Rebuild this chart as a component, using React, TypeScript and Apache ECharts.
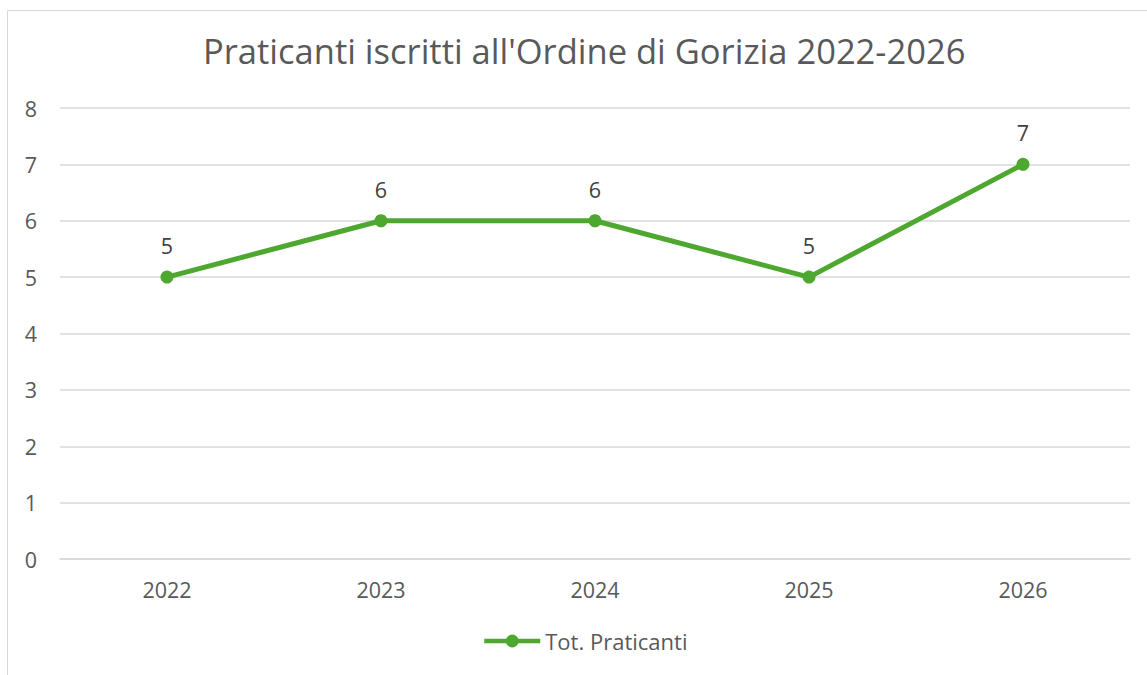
import React, { useEffect, useRef } from "react";
import * as echarts from "echarts";

const categories = ["2022", "2023", "2024", "2025", "2026"];
const praticanti = [5, 6, 6, 5, 7];
const seriesName = "Tot. Praticanti";
const titleText = "Praticanti iscritti all'Ordine di Gorizia 2022-2026";

export default function App() {
  const ref = useRef<HTMLDivElement>(null);
  useEffect(() => {
    if (!ref.current) return;
    const chart = echarts.init(ref.current, undefined, { renderer: "svg" });
    const font = "'Open Sans', 'Noto Sans', sans-serif";
    chart.setOption({
      animation: false,
      backgroundColor: "#ffffff",
      title: {
        text: titleText,
        left: 198,
        top: 28,
        textStyle: { fontFamily: font, fontSize: 34.5, fontWeight: "normal", color: "#595959" },
      },
      graphic: [
        {
          type: "rect",
          shape: { x: 7.5, y: 10.5, width: 1160, height: 700 },
          style: { fill: "none", stroke: "#d9d9d9", lineWidth: 1 },
          silent: true,
        },
      ],
      legend: {
        top: 625,
        left: 477,
        itemWidth: 56,
        itemHeight: 16,
        itemGap: 4,
        lineStyle: { width: 4.5 },
        textStyle: { fontFamily: font, fontSize: 22, color: "#595959", padding: [0, 0, 0, 0] },
        data: [{ name: seriesName }],
      },
      grid: { left: 60, right: 17, top: 108, bottom: 116, containLabel: false },
      xAxis: {
        type: "category",
        data: categories,
        boundaryGap: true,
        axisLine: { show: true, lineStyle: { color: "#d9d9d9", width: 1.5 } },
        axisTick: { show: false },
        axisLabel: { fontFamily: font, fontSize: 21.5, color: "#595959", margin: 19 },
      },
      yAxis: {
        type: "value",
        min: 0,
        max: 8,
        interval: 1,
        axisLine: { show: false },
        axisTick: { show: false },
        splitLine: { lineStyle: { color: "#d9d9d9", width: 1.5 } },
        axisLabel: { fontFamily: font, fontSize: 21.5, color: "#595959", margin: 23 },
      },
      series: [
        {
          name: seriesName,
          type: "line",
          data: praticanti,
          symbol: "circle",
          symbolSize: 13,
          itemStyle: { color: "#4ea72e" },
          lineStyle: { color: "#4ea72e", width: 5 },
          label: {
            show: true,
            position: "top",
            distance: 14,
            fontFamily: font,
            fontSize: 21.5,
            color: "#404040",
          },
        },
      ],
    });
    return () => chart.dispose();
  }, []);
  return (
    <div
      ref={ref}
      style={{ position: "fixed", left: 0, top: 0, width: 1147, height: 675 }}
    />
  );
}
